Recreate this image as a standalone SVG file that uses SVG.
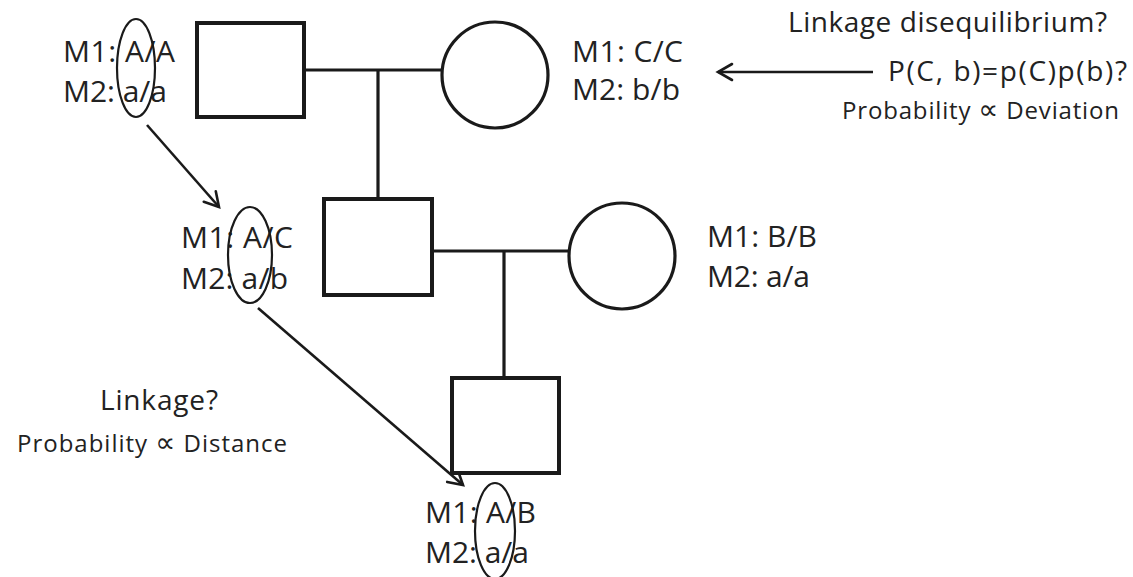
<svg xmlns="http://www.w3.org/2000/svg" width="1133" height="577" viewBox="0 0 1133 577">
<style>
.sq{fill:#fff;stroke:#1a1a1a;stroke-width:4}
.ci{fill:#fff;stroke:#1a1a1a;stroke-width:3.2}
.ln{fill:none;stroke:#1a1a1a;stroke-width:3.2}
.ar{fill:none;stroke:#1a1a1a;stroke-width:2.6}
.el{fill:none;stroke:#1a1a1a;stroke-width:2.2}
.t{font-family:"Open Sans","Liberation Sans",sans-serif;fill:#222}
.g{font-size:30px}
.h{font-size:28px}
.s{font-size:24px}
.pr{font-family:"DejaVu Sans",sans-serif;font-size:28px}
</style>
<defs>
<marker id="ah" markerUnits="userSpaceOnUse" markerWidth="30" markerHeight="30" refX="0" refY="0" viewBox="-20 -15 30 30" orient="auto">
<path d="M-14,-8 L0,0 L-14,8" fill="none" stroke="#1a1a1a" stroke-width="2.6" stroke-linecap="round"/>
</marker>
</defs>
<g id="connectors">
<path class="ln" d="M304,70 H442"/>
<path class="ln" d="M378,70 V200"/>
<path class="ln" d="M432,251 H569"/>
<path class="ln" d="M504,251 V378"/>
<path class="ar" d="M147,125 L219,207" marker-end="url(#ah)"/>
<path class="ar" d="M258,308 L463,485" marker-end="url(#ah)"/>
<path class="ar" d="M873,72 H718" stroke-width="1.8" marker-end="url(#ah)"/>
</g>
<g id="father1">
<rect class="sq" x="197" y="23" width="107" height="94"/>
<text class="t g" x="63" y="62" textLength="112">M1: A/A</text>
<text class="t g" x="63" y="102" textLength="104">M2: a/a</text>
<ellipse class="el" cx="136" cy="68" rx="19" ry="49"/>
</g>
<g id="mother1">
<circle class="ci" cx="495" cy="75" r="53"/>
<text class="t g" x="572" y="62" textLength="111">M1: C/C</text>
<text class="t g" x="572" y="100" textLength="108">M2: b/b</text>
</g>
<g id="son">
<rect class="sq" x="324" y="199" width="108" height="96"/>
<text class="t g" x="181" y="248" textLength="112">M1: A/C</text>
<text class="t g" x="181" y="289" textLength="107">M2: a/b</text>
<ellipse class="el" cx="250" cy="255" rx="22" ry="48"/>
</g>
<g id="mother2">
<circle class="ci" cx="622" cy="256" r="53"/>
<text class="t g" x="707" y="247" textLength="110">M1: B/B</text>
<text class="t g" x="707" y="287" textLength="103">M2: a/a</text>
</g>
<g id="grandson">
<rect class="sq" x="452" y="378" width="107" height="95"/>
<text class="t g" x="425" y="523" textLength="111">M1: A/B</text>
<text class="t g" x="425" y="563" textLength="104">M2: a/a</text>
<ellipse class="el" cx="495" cy="531" rx="20" ry="48"/>
</g>
<g id="ld-note">
<text class="t h" x="788" y="32" textLength="319">Linkage disequilibrium?</text>
<text class="t h" x="888" y="81" textLength="239">P(C, b)=p(C)p(b)?</text>
<text class="t s" x="842" y="119" textLength="277">Probability <tspan class="pr">∝</tspan> Deviation</text>
</g>
<g id="linkage-note">
<text class="t h" x="100" y="410" textLength="118">Linkage?</text>
<text class="t s" x="17" y="452" textLength="270">Probability <tspan class="pr">∝</tspan> Distance</text>
</g>
</svg>
